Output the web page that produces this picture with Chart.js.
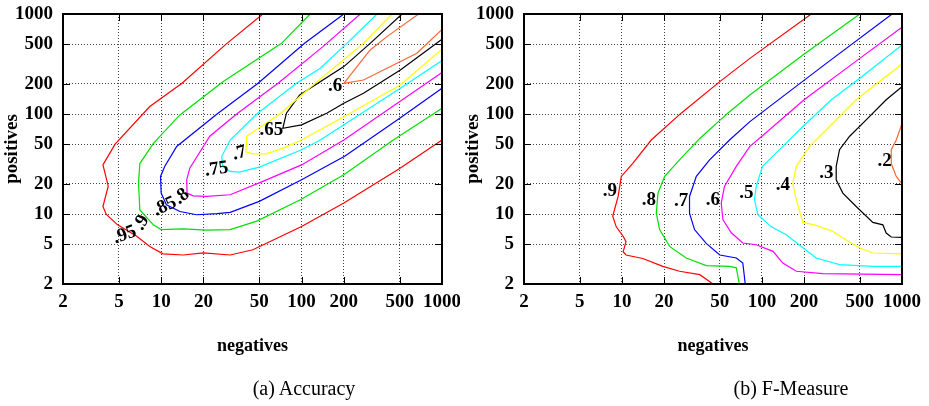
<!DOCTYPE html>
<html>
<head>
<meta charset="utf-8">
<script src="https://cdn.jsdelivr.net/npm/chart.js@4.4.1/dist/chart.umd.min.js"></script>
<style>
  body { margin: 0; background: #fff; width: 929px; height: 406px; overflow: hidden; position: relative; }
  canvas { position: absolute; top: 0; }
  #accChart { left: 0; }
  #fmChart { left: 461px; }
  .caption { position: absolute; top: 376px; width: 220px; text-align: center;
             font: 20px "Liberation Serif", serif; line-height: 24px; color: #000; }
</style>
</head>
<body>
<canvas id="accChart" width="460" height="406"></canvas>
<canvas id="fmChart" width="468" height="406"></canvas>
<div class="caption" style="left:194px">(a) Accuracy</div>
<div class="caption" style="left:681px">(b) F-Measure</div>
<script>
// axis ticks (both axes, both charts)
const tickValues = [2, 5, 10, 20, 50, 100, 200, 500, 1000];
const contourColors = ["#ff0000", "#00e000", "#0000ff", "#ff00ff", "#00ffff", "#ffff00", "#000000", "#ff6633"];

// (a) Accuracy contours, [negatives, positives]
const acc95 = [[53,1000],[29,500],[14,202],[8.3,119],[4.7,50],[3.85,31],[4.2,19],[3.85,11.9],[4.07,9.9],[4.9,7.8],[6.7,6.0],[8.3,4.75],[10.3,4.0],[14.4,3.9],[20,4.1],[31,3.9],[45,4.4],[100,7.5],[200,12.9],[490,28],[1000,55]];
const acc90 = [[115,1000],[72,509],[27.7,211],[13.6,98],[8.8,51],[7.05,32],[6.9,20.4],[7.05,11],[8.8,7.8],[10,7.0],[14.4,7.1],[21,6.9],[31,7.0],[48,8.5],[98,13.9],[200,24.7],[450,55],[1000,114]];
const acc85 = [[200,1000],[105,509],[49,203],[25,100],[12.9,47.4],[10.6,29.9],[9.9,23.8],[10,16.2],[10.9,12.4],[13.6,10.6],[17.9,9.85],[25,10.1],[31,10.4],[50,13.4],[100,22],[204,38],[500,91],[1000,181]];
const acc80 = [[262,1000],[142,472],[68,203],[34.5,100],[22.2,60],[16,28.8],[15.2,22],[15.3,16.2],[16.9,15.2],[21,15],[31,15.6],[53,21.2],[100,31],[200,55],[1000,260]];
const acc75 = [[345,1000],[210,509],[136,287],[92,203],[48,100],[31,55],[27,37.6],[27.4,30],[31,26.7],[36,26.3],[50,29.5],[100,43.9],[136,55],[505,181],[1000,342]];
const acc70 = [[440,1000],[276,509],[125,203],[70,100],[40.6,60],[40.2,42],[45,40],[56,40],[74,45.6],[100,55],[200,94],[505,195],[1000,444]];
const acc65 = [[519,1000],[308,509],[200,298],[97,155],[78,102],[73.5,72],[100,78],[151,102],[200,128],[276,161],[505,276],[1000,559]];
const acc60 = [[682,1000],[405,594],[308,437],[248,298],[200,203],[276,219],[405,287],[663,405],[1000,700]];

const accLabelText = [".95", ".9", ".85", ".8", ".75", ".7", ".65", ".6"];
const accLabelX = [5.5, 7.25, 10.6, 14, 24.8, 36, 61, 173];
const accLabelY = [6.2, 8.2, 11.9, 15, 28.1, 40.6, 69.5, 191];
const accLabelTilt = [-20, -60, -25, -40, -8, -15, 0, 0];

// (b) F-Measure contours
const fm90 = [[225,1000],[82,360],[50,211],[26.5,102],[16.2,55],[12,32.3],[9.9,23.8],[9.4,15],[8.6,9.5],[9.1,7.5],[10.2,6.0],[10.7,5.3],[10.4,4.6],[10.2,4.2],[10.7,3.9],[14.1,3.6],[19.6,3.0],[25.8,2.68],[36,2.48],[44.7,2]];
const fm80 = [[500,1000],[196,390],[82,155],[57,102],[36,57],[25.8,34.8],[20.2,23.8],[18.1,16.2],[17.6,10.2],[18.6,7.0],[21.9,4.75],[28.8,3.64],[40,3.05],[58.7,3.0],[65.6,2.9],[69,2]];
const fm70 = [[850,1000],[288,321],[82,84],[58.7,55],[42.3,34.8],[34,23.8],[30.4,15],[30.4,10.2],[33,7.0],[40,5.1],[50,3.9],[65.6,3.64],[73,3.24],[76,2]];
const fm60 = [[1000,736],[500,360],[200,139],[100,60],[82,47.5],[65.6,30],[54,18.9],[51.2,12.9],[52.6,8.8],[60.4,6.5],[73,5.14],[91,4.94],[120,4.24],[141,3.24],[176,2.68],[272,2.54],[1000,2.48]];
const fm50 = [[1000,490],[500,228],[313,139],[196,75],[141,47.5],[101,30],[91,18.9],[88.5,13.9],[93.5,9.85],[116,7.5],[149,6.2],[191,4.75],[244,3.64],[358,3.12],[620,3.0],[1000,3.0]];
const fm40 = [[1000,317],[471,139],[304,75],[219,47.5],[176,30],[166,20.4],[176,13.9],[196,8.25],[238,7.8],[321,6.7],[400,5.5],[500,4.58],[620,4.08],[1000,4.0]];
const fm30 = [[1000,188],[771,139],[555,87.5],[423,60],[358,44],[339,30],[339,22],[378,16.2],[471,11.9],[619,8.25],[730,7.8],[771,6.46],[838,5.9],[1000,5.85]];
const fm20 = [[1000,80],[910,55],[838,44],[838,32],[910,23.8],[1000,20]];

const fmLabelText = [".9", ".8", ".7", ".6", ".5", ".4", ".3", ".2"];
const fmLabelX = [8.2, 15.6, 26.5, 44.7, 77.3, 141, 288, 750];
const fmLabelY = [16.8, 13.9, 13.4, 13.9, 16.2, 19.6, 25.7, 33.6];
const fmLabelTilt = [0, 0, 0, 0, 0, 0, 0, 0];

const serifBold = size => ({ family: "Liberation Serif", size: size, weight: "bold" });

const frameAndLabels = {
  id: "frameAndLabels",
  afterDatasetsDraw(chart, args, opts) {
    const { ctx, chartArea: a, scales: { x, y } } = chart;
    ctx.save();
    ctx.strokeStyle = "#000";
    ctx.lineWidth = 1;
    ctx.beginPath();
    tickValues.slice(1, -1).forEach(v => {
      const px = Math.round(x.getPixelForValue(v)) + 0.5;
      const py = Math.round(y.getPixelForValue(v)) + 0.5;
      ctx.moveTo(px, a.bottom); ctx.lineTo(px, a.bottom - 7);
      ctx.moveTo(px, a.top); ctx.lineTo(px, a.top + 7);
      ctx.moveTo(a.left, py); ctx.lineTo(a.left + 7, py);
      ctx.moveTo(a.right, py); ctx.lineTo(a.right - 7, py);
    });
    ctx.stroke();
    ctx.lineWidth = 2;
    ctx.strokeRect(a.left, a.top, a.right - a.left, a.bottom - a.top);

    ctx.fillStyle = "#000";
    ctx.font = "bold 19px 'Liberation Serif'";
    ctx.textAlign = "center";
    ctx.textBaseline = "middle";
    opts.text.forEach((t, i) => {
      ctx.save();
      ctx.translate(x.getPixelForValue(opts.xs[i]), y.getPixelForValue(opts.ys[i]));
      ctx.rotate(opts.tilt[i] * Math.PI / 180);
      ctx.fillText(t, 0, 0);
      ctx.restore();
    });
    ctx.restore();
  }
};

function gridColor(c) {
  const v = c.tick && c.tick.value;
  return (v === 2 || v === 1000) ? "rgba(0,0,0,0)" : "#444";
}

function logAxis(title, isX) {
  return {
    type: "logarithmic",
    min: 2,
    max: 1000,
    afterBuildTicks: s => { s.ticks = tickValues.map(v => ({ value: v })); },
    afterFit: s => {
      if (isX) { s.height = 87; s.paddingLeft = 0; s.paddingRight = 0; }
      else { s.width = 63; s.paddingTop = 0; s.paddingBottom = 0; }
    },
    ticks: { callback: v => String(v), font: serifBold(19), color: "#000",
             padding: isX ? 7 : 10, autoSkip: false, maxRotation: 0 },
    grid: { color: gridColor, drawTicks: false, lineWidth: 1 },
    border: { display: false, dash: [1, 2] },
    title: { display: true, text: title, color: "#000", font: serifBold(isX ? 18 : 19),
             padding: isX ? { top: 0, bottom: 14 } : { top: 1, bottom: 0 } }
  };
}

function drawContours(id, lines, labels, padRight) {
  new Chart(document.getElementById(id), {
    type: "scatter",
    data: {
      datasets: lines.map((pts, i) => ({
        data: pts.map(([x, y]) => ({ x, y })),
        borderColor: contourColors[i],
        borderWidth: 1.2,
        showLine: true,
        pointRadius: 0,
        fill: false
      }))
    },
    options: {
      responsive: false,
      animation: false,
      layout: { padding: { top: 14, right: padRight, bottom: 35, left: 0 } },
      plugins: { legend: { display: false }, tooltip: { enabled: false }, frameAndLabels: labels },
      scales: { x: logAxis("negatives", true), y: logAxis("positives", false) }
    },
    plugins: [frameAndLabels]
  });
}

drawContours("accChart", [acc95, acc90, acc85, acc80, acc75, acc70, acc65, acc60],
  { text: accLabelText, xs: accLabelX, ys: accLabelY, tilt: accLabelTilt }, 18);
drawContours("fmChart", [fm90, fm80, fm70, fm60, fm50, fm40, fm30, fm20],
  { text: fmLabelText, xs: fmLabelX, ys: fmLabelY, tilt: fmLabelTilt }, 27);
</script>
</body>
</html>
